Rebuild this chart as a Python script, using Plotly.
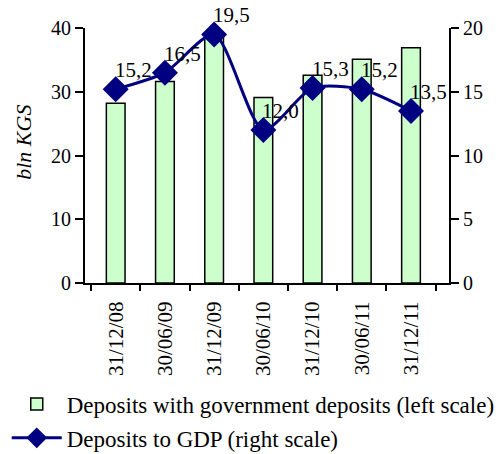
import plotly.graph_objects as go

categories = ["31/12/08", "30/06/09", "31/12/09", "30/06/10", "31/12/10", "30/06/11", "31/12/11"]
deposits_bln_kgs = [28.2, 31.6, 38.6, 29.1, 32.6, 35.1, 36.9]
deposits_to_gdp = [15.2, 16.5, 19.5, 12.0, 15.3, 15.2, 13.5]
left_ticks = [0, 10, 20, 30, 40]
right_ticks = [0, 5, 10, 15, 20]

FONT = "serif"
labels = [f"{v:.1f}".replace(".", ",") for v in deposits_to_gdp]

fig = go.Figure()
fig.add_trace(go.Bar(
    x=categories, y=deposits_bln_kgs,
    name="Deposits with government deposits (left scale)",
    marker=dict(color="#CCFFCC", line=dict(color="black", width=1.5)),
    width=0.38, yaxis="y", legendgroup="a",
))
fig.add_trace(go.Scatter(
    x=categories, y=deposits_to_gdp,
    name="Deposits to GDP (right scale)",
    mode="lines+markers",
    line=dict(color="#000080", width=3, shape="spline", smoothing=0.7),
    marker=dict(symbol="diamond", size=20, color="#000080"),
    yaxis="y2", cliponaxis=False, legendgroup="b",
))

for c, v, t in zip(categories, deposits_to_gdp, labels):
    fig.add_annotation(x=c, y=v, xref="x", yref="y2", text=t, showarrow=False,
                       xanchor="left", yanchor="bottom", xshift=-3, yshift=5,
                       font=dict(family=FONT, size=21, color="black"))

# y-axis title placed as annotation (slightly above plot centre, as in reference)
fig.add_annotation(x=0, y=0.55, xref="paper", yref="paper", text="<i>bln KGS</i>",
                   textangle=-90, showarrow=False, xanchor="center", yanchor="middle",
                   xshift=-61, font=dict(family=FONT, size=22, color="black"))

fig.update_layout(
    width=498, height=454,
    margin=dict(l=85, r=49, t=28, b=171, autoexpand=False),
    paper_bgcolor="white", plot_bgcolor="white",
    font=dict(family=FONT, size=20, color="black"),
    showlegend=True,
    legend=dict(orientation="v", x=-0.215, y=-0.39, xanchor="left", yanchor="top",
                font=dict(family=FONT, size=23, color="black"),
                itemwidth=50, tracegroupgap=1, bgcolor="rgba(0,0,0,0)"),
    xaxis=dict(type="category", tickson="boundaries", ticks="outside", ticklen=6,
               tickcolor="black", tickwidth=1.5, showline=True, linecolor="black",
               linewidth=2, tickangle=-90, showgrid=False, automargin=False,
               ticklabelstandoff=8, tickfont=dict(family=FONT, size=21)),
    yaxis=dict(range=[0, 40], tickvals=left_ticks, ticks="outside", ticklen=8,
               tickcolor="black", tickwidth=1.5, showline=True, linecolor="black",
               linewidth=2, showgrid=False, zeroline=False, automargin=False,
               tickfont=dict(family=FONT, size=20)),
    yaxis2=dict(range=[0, 20], tickvals=right_ticks, ticks="outside", ticklen=8,
                tickcolor="black", tickwidth=1.5, showline=True, linecolor="black",
                linewidth=2, showgrid=False, zeroline=False, overlaying="y", side="right",
                automargin=False, tickfont=dict(family=FONT, size=20)),
)

fig.write_html("out.html", config={"displayModeBar": False},
               post_script="document.body.style.margin='0';")
